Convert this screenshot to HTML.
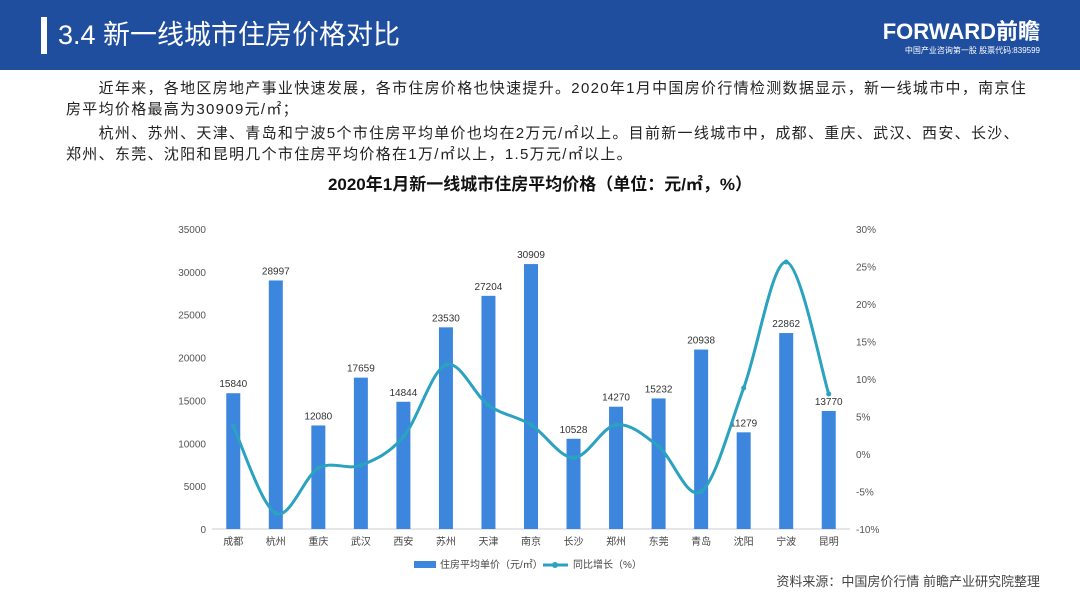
<!DOCTYPE html>
<html><head><meta charset="utf-8">
<style>
body{margin:0;width:1080px;height:608px;background:#fff;position:relative;overflow:hidden;font-family:"Liberation Sans","Noto Sans CJK SC",sans-serif;}
.hdr{position:absolute;left:0;top:0;width:1080px;height:70px;background:#1f4e9e;}
.bar{position:absolute;left:41px;top:17px;width:6px;height:37px;background:#fff;}
.title{position:absolute;left:58px;top:17px;color:#fff;font-size:27px;line-height:37px;}
.logo{position:absolute;right:40px;top:20px;color:#fff;font-size:22px;font-weight:bold;line-height:24px;}
.logo2{position:absolute;right:40px;top:45px;color:#fff;font-size:8px;}
.p{position:absolute;left:66px;width:980px;font-size:15px;letter-spacing:1.3px;color:#222;line-height:21px;white-space:nowrap;}
.ct{position:absolute;left:0;width:1080px;top:170px;text-align:center;font-size:17px;font-weight:bold;color:#111;}
.src{position:absolute;right:40px;top:571px;font-size:13px;color:#444;}
</style></head><body>
<div class="hdr">
<div class="bar"></div>
<div class="title">3.4 新一线城市住房价格对比</div>
<div class="logo">FORWARD前瞻</div>
<div class="logo2">中国产业咨询第一股 股票代码:839599</div>
</div>
<div class="p" style="top:78px">&emsp;&emsp;近年来，各地区房地产事业快速发展，各市住房价格也快速提升。2020年1月中国房价行情检测数据显示，新一线城市中，南京住<br>房平均价格最高为30909元/㎡；</div>
<div class="p" style="top:123px">&emsp;&emsp;杭州、苏州、天津、青岛和宁波5个市住房平均单价也均在2万元/㎡以上。目前新一线城市中，成都、重庆、武汉、西安、长沙、<br>郑州、东莞、沈阳和昆明几个市住房平均价格在1万/㎡以上，1.5万元/㎡以上。</div>
<div class="ct">2020年1月新一线城市住房平均价格（单位：元/㎡，%）</div>
<svg id="chart" width="1080" height="608" style="position:absolute;left:0;top:0"></svg>
<div class="src">资料来源：中国房价行情 前瞻产业研究院整理</div>
<script>
const categories=["成都","杭州","重庆","武汉","西安","苏州","天津","南京","长沙","郑州","东莞","青岛","沈阳","宁波","昆明"];
const prices=[15840,28997,12080,17659,14844,23530,27204,30909,10528,14270,15232,20938,11279,22862,13770];
const growth=[3.7,-7.9,-1.9,-1.5,2.3,11.9,6.5,3.9,-0.5,3.9,1.0,-5.0,8.8,25.6,8.0];
const leftTicks=[0,5000,10000,15000,20000,25000,30000,35000];
const rightTicks=[-10,-5,0,5,10,15,20,25,30];
const svg=document.getElementById('chart');const NS='http://www.w3.org/2000/svg';
function mk(t,a,p){const e=document.createElementNS(NS,t);for(const k in a)e.setAttribute(k,a[k]);(p||svg).appendChild(e);return e;}
const x0=212,x1=850,yB=529,yT=229;
const step=(x1-x0)/categories.length;
const xc=i=>x0+step*(i+0.5);
const yL=v=>yB-(v/35000)*(yB-yT);
const yR=v=>yB-((v+10)/40)*(yB-yT);
leftTicks.forEach(t=>{const e=mk('text',{x:206,y:yL(t)+4,'text-anchor':'end','font-size':10,fill:'#555'});e.textContent=t;

});
rightTicks.forEach(t=>{const e=mk('text',{x:856,y:yR(t)+4,'font-size':10,fill:'#555'});e.textContent=t+'%';

});
const ax=mk('line',{x1:x0,x2:x1,y1:yB,y2:yB,stroke:'#ccc','stroke-width':1});


categories.forEach((c,i)=>{
const r=mk('rect',{x:xc(i)-7,y:yL(prices[i]),width:14,height:yB-yL(prices[i]),fill:'#3d86dd'});


const l=mk('text',{x:xc(i),y:yL(prices[i])-6,'text-anchor':'middle','font-size':10,fill:'#333'});l.textContent=prices[i];


const t=mk('text',{x:xc(i),y:545,'text-anchor':'middle','font-size':10,fill:'#444'});t.textContent=c;


});
const pts=growth.map((g,i)=>[xc(i),yR(g)]);
let d='M'+pts[0][0]+','+pts[0][1];
for(let i=0;i<pts.length-1;i++){const p0=pts[i-1]||pts[i],p1=pts[i],p2=pts[i+1],p3=pts[i+2]||p2;
d+=' C'+(p1[0]+(p2[0]-p0[0])/6)+','+(p1[1]+(p2[1]-p0[1])/6)+' '+(p2[0]-(p3[0]-p1[0])/6)+','+(p2[1]-(p3[1]-p1[1])/6)+' '+p2[0]+','+p2[1];}
const ln=mk('path',{d:d,fill:'none',stroke:'#2aa2c0','stroke-width':3});


pts.forEach(p=>{const c=mk('circle',{cx:p[0],cy:p[1],r:2.5,fill:'#2aa2c0'});

});
const lg=mk('g',{});


mk('rect',{x:414,y:561,width:22,height:7,fill:'#3d86dd'},lg);
const lt1=mk('text',{x:440,y:568,'font-size':10,fill:'#444'},lg);lt1.textContent='住房平均单价（元/㎡）';
mk('line',{x1:543,x2:568,y1:565,y2:565,stroke:'#2aa2c0','stroke-width':3},lg);
mk('circle',{cx:555,cy:565,r:3,fill:'#2aa2c0'},lg);
const lt2=mk('text',{x:573,y:568,'font-size':10,fill:'#444'},lg);lt2.textContent='同比增长（%）';
</script>
</body></html>
